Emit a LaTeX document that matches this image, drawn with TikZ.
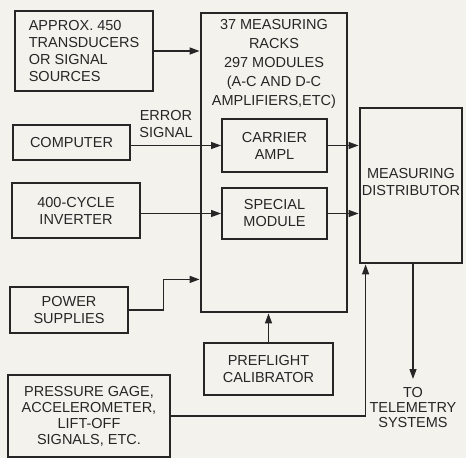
\documentclass[tikz,border=0pt]{standalone}
\usepackage{fontspec}
\setmainfont{Liberation Sans}
\usepackage{tikz}
\usetikzlibrary{arrows.meta,positioning,calc}
\definecolor{InkColor}{RGB}{38,38,38}
\definecolor{PaperColor}{RGB}{244,242,237}

\begin{document}
\begin{tikzpicture}[x=1pt, y=-1pt,
    every node/.style={font=\fontsize{14.5}{17}\selectfont, text=InkColor},
    heavybox/.style={draw=InkColor, line width=2.8pt, align=center, inner sep=2pt},
    lightbox/.style={draw=InkColor, line width=1.9pt, align=center, inner sep=2pt},
    feed/.style={draw=InkColor, line width=1.3pt, -{Triangle[length=10pt,width=7pt]}}]
      \fill[PaperColor] (0,0) rectangle (466,458);
      \useasboundingbox (0,0) rectangle (466,458);
      \node[heavybox, align=left, minimum width=138pt, minimum height=80pt] (src) at (84,51) {APPROX. 450\\TRANSDUCERS\\OR SIGNAL\\SOURCES};
      \node[heavybox, minimum width=146pt, minimum height=299pt] (racks) at (274,162.5) {};
      \node[anchor=north, align=center, font=\fontsize{14.5}{19}\selectfont] (rackslbl) at ([yshift=-4pt]racks.north) {37 MEASURING\\RACKS\\297 MODULES\\(A-C AND D-C\\AMPLIFIERS,ETC)};
      \node[lightbox, minimum width=105pt, minimum height=53pt] (carrier) at (274.5,145.5) {CARRIER\\AMPL};
      \node[lightbox, minimum width=105pt, minimum height=51pt] (special) at (274.5,213.5) {SPECIAL\\MODULE};
      \node[heavybox, minimum width=117pt, minimum height=35pt] (comp) at (71.5,142.5) {COMPUTER};
      \node[heavybox, minimum width=128pt, minimum height=55pt] (inv) at (76,210.5) {400-CYCLE\\INVERTER};
      \node[heavybox, minimum width=118pt, minimum height=46pt] (power) at (69,310) {POWER\\SUPPLIES};
      \node[heavybox, minimum width=102pt, minimum height=155pt] (dist) at (411,185.5) {MEASURING\\DISTRIBUTOR\\[-9pt]};
      \node[heavybox, minimum width=129pt, minimum height=52pt] (pre) at (268.5,369) {PREFLIGHT\\CALIBRATOR};
      \node[heavybox, minimum width=162pt, minimum height=82pt, font=\fontsize{14.5}{16}\selectfont] (press) at (89,416) {PRESSURE GAGE,\\ACCELEROMETER,\\LIFT-OFF\\SIGNALS, ETC.};
      \node[align=center] (errlbl) at (166,124) {ERROR\\SIGNAL};
      \node[align=center, anchor=north, font=\fontsize{14.5}{15}\selectfont] (tele) at (413,384) {TO\\TELEMETRY\\SYSTEMS};
      \draw[feed] (src.east) -- (src.east -| racks.west);
      \draw[feed] (comp.east |- carrier.west) -- (carrier.west);
      \draw[feed] (inv.east |- special.west) -- (special.west);
      \draw[feed] (power.east) -- ++(34,0) |- ([yshift=34pt]racks.south west);
      \draw[feed] (carrier.east) -- (carrier.east -| dist.west);
      \draw[feed] (special.east) -- (special.east -| dist.west);
      \draw[feed] (pre.north) -- (pre.north |- racks.south);
      \draw[feed] (press.east) -| ([xshift=7pt]dist.south west);
      \draw[feed] (tele.north |- dist.south) -- ([yshift=5pt]tele.north);
    \end{tikzpicture}
\end{document}
